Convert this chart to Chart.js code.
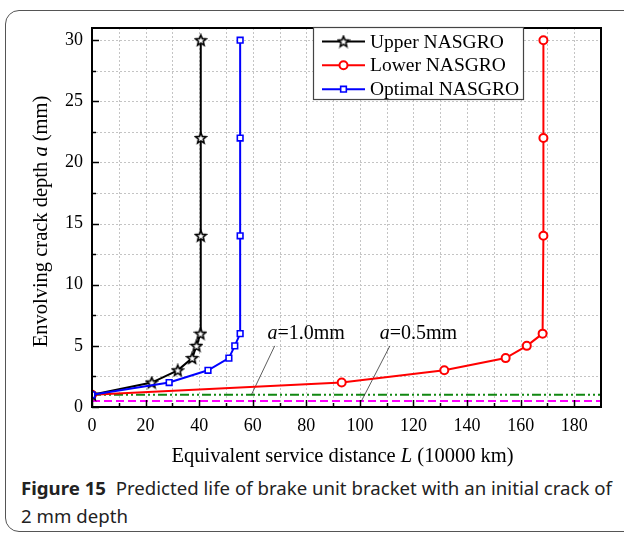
<!DOCTYPE html>
<html><head><meta charset="utf-8">
<script src="https://cdn.jsdelivr.net/npm/chart.js@4.4.1/dist/chart.umd.min.js"></script>
<style>
html,body{margin:0;padding:0;background:#fff;width:624px;height:533px;overflow:hidden}
#frame{position:absolute;left:5px;top:10px;width:640px;height:520px;border:1px solid #555;border-radius:14px;}
#cv{position:absolute;left:0;top:0}
#cap{position:absolute;left:21px;top:474px;font-family:"Noto Sans";font-size:18px;line-height:28px;color:#222;white-space:nowrap;transform-origin:0 0}
</style></head><body>
<div id="frame"></div>
<canvas id="cv" width="624" height="470"></canvas>
<div id="cap"><span id="l1"><b>Figure 15</b>&nbsp; Predicted life of brake unit bracket with an initial crack of</span><br>2 mm depth</div>
<script>
// ---- data ----
const seriesNames = ['Upper NASGRO', 'Lower NASGRO', 'Optimal NASGRO'];
const distUpper   = [0, 22.3, 32.0, 37.4, 39.0, 40.5, 40.6, 40.6, 40.6];
const depthUpper  = [1, 2, 3, 4, 5, 6, 14, 22, 30];
const distLower   = [0, 93.2, 131.5, 154.4, 162.3, 168.2, 168.5, 168.5, 168.5];
const depthLower  = [1, 2, 3, 4, 5, 6, 14, 22, 30];
const distOptimal = [0, 28.8, 43.3, 51.1, 53.3, 55.3, 55.3, 55.3, 55.3];
const depthOptimal= [1, 2, 3, 4, 5, 6, 14, 22, 30];
const thresholdDepths = [1.0, 0.5];
const thresholdLabels = ['=1.0mm', '=0.5mm'];
const leaderStart = [[68.2, 5.0], [111.2, 5.0]];
const leaderEnd   = [[59.5, 1.0], [100.6, 0.5]];
const labelAt     = [[65.5, 6.0], [107.4, 6.0]];
const xTickLabels = [0, 20, 40, 60, 80, 100, 120, 140, 160, 180];
const yTickLabels = [0, 5, 10, 15, 20, 25, 30];
const xRange = [0, 190];
const yRange = [0, 31];

const zip = (xs, ys) => xs.map((v, i) => ({x: v, y: ys[i]}));

// star marker
function makeStar(){
  const c = document.createElement('canvas'); c.width = 14; c.height = 14;
  const g = c.getContext('2d');
  g.beginPath();
  for (let i = 0; i < 10; i++){
    const r = i % 2 === 0 ? 5.6 : 2.5;
    const ang = -Math.PI/2 + i*Math.PI/5;
    const px = 7 + r*Math.cos(ang), py = 7.4 + r*Math.sin(ang);
    i ? g.lineTo(px, py) : g.moveTo(px, py);
  }
  g.closePath();
  g.fillStyle = '#fff'; g.fill();
  g.lineWidth = 1.6; g.strokeStyle = '#000'; g.lineJoin = 'miter'; g.stroke();
  return c;
}
const starImg = makeStar();

const SERIF = '"Liberation Serif", "Times New Roman", serif';

function drawParts(ctx, parts, x, y, align){
  let total = 0;
  parts.forEach(p => { ctx.font = p[1]; total += ctx.measureText(p[0]).width; });
  let cx = align === 'center' ? x - total/2 : x;
  ctx.textAlign = 'left'; ctx.textBaseline = 'middle';
  parts.forEach(p => { ctx.font = p[1]; ctx.fillText(p[0], cx, y); cx += ctx.measureText(p[0]).width; });
}

const decor = {
  id: 'decor',
  beforeDatasetsDraw(chart){
    const {ctx, chartArea: a, scales: {x, y}} = chart;
    ctx.save();
    ctx.strokeStyle = '#c4c4c4'; ctx.lineWidth = 1; ctx.setLineDash([2, 2]);
    for (let v = 10; v < xRange[1]; v += 10){
      const px = Math.round(x.getPixelForValue(v)) + 0.5;
      ctx.beginPath(); ctx.moveTo(px, a.top); ctx.lineTo(px, a.bottom); ctx.stroke();
    }
    for (let v = 2.5; v < yRange[1]; v += 2.5){
      const py = Math.round(y.getPixelForValue(v)) + 0.5;
      ctx.beginPath(); ctx.moveTo(a.left, py); ctx.lineTo(a.right, py); ctx.stroke();
    }
    ctx.restore();
  },
  afterDatasetsDraw(chart){
    const {ctx, chartArea: a, scales: {x, y}} = chart;
    ctx.save();
    // box
    ctx.strokeStyle = '#000'; ctx.lineWidth = 2; ctx.setLineDash([]);
    ctx.strokeRect(a.left, a.top, a.right - a.left, a.bottom - a.top);
    // inward ticks
    ctx.lineWidth = 1.5;
    for (let v = 0; v <= 180; v += 10){
      const px = Math.round(x.getPixelForValue(v)) + 0.5;
      const len = v % 20 === 0 ? 7 : 4;
      ctx.beginPath(); ctx.moveTo(px, a.bottom); ctx.lineTo(px, a.bottom - len); ctx.stroke();
    }
    for (let v = 0; v <= 30; v += 2.5){
      const py = Math.round(y.getPixelForValue(v)) + 0.5;
      const len = v % 5 === 0 ? 7 : 4;
      ctx.beginPath(); ctx.moveTo(a.left, py); ctx.lineTo(a.left + len, py); ctx.stroke();
    }
    // annotation labels
    ctx.fillStyle = '#000';
    thresholdLabels.forEach((t, i) => {
      drawParts(ctx, [['a', 'italic 20px ' + SERIF], [t, '20px ' + SERIF]],
        x.getPixelForValue(labelAt[i][0]), y.getPixelForValue(labelAt[i][1]), 'left');
    });
    // legend
    const L = 313.5, T = 27.5, W = 210, H = 72;
    ctx.fillStyle = '#fff'; ctx.fillRect(L, T, W, H);
    ctx.strokeStyle = '#444'; ctx.lineWidth = 1.2; ctx.strokeRect(L, T, W, H);
    const rows = [41.5, 65.3, 89.2];
    seriesNames.forEach((name, i) => {
      const ds = chart.data.datasets[i];
      ctx.strokeStyle = ds.borderColor; ctx.lineWidth = 2;
      ctx.beginPath(); ctx.moveTo(322, rows[i]); ctx.lineTo(365, rows[i]); ctx.stroke();
      ctx.fillStyle = ds.pointBackgroundColor; ctx.strokeStyle = ds.borderColor;
      ctx.lineWidth = ds.pointBorderWidth;
      Chart.helpers.drawPoint(ctx, {pointStyle: ds.pointStyle, radius: ds.pointRadius, rotation: 0, borderWidth: ds.pointBorderWidth}, 343.5, rows[i]);
      ctx.fillStyle = '#000';
      drawParts(ctx, [[name, '19.5px ' + SERIF]], 370, rows[i] + 1, 'left');
    });
    ctx.restore();
  },
  afterDraw(chart){
    const {ctx, chartArea: a} = chart;
    ctx.save();
    ctx.fillStyle = '#000';
    drawParts(ctx, [['Equivalent service distance ', '20.5px ' + SERIF], ['L', 'italic 20.5px ' + SERIF], [' (10000 km)', '20.5px ' + SERIF]],
      (a.left + a.right)/2 - 4, 457, 'center');
    ctx.translate(42, (a.top + a.bottom)/2 + 4);
    ctx.rotate(-Math.PI/2);
    drawParts(ctx, [['Envolving crack depth ', '20.5px ' + SERIF], ['a', 'italic 20.5px ' + SERIF], [' (mm)', '20.5px ' + SERIF]], 0, 0, 'center');
    ctx.restore();
  }
};

function build(){
  const datasets = [
    {label: seriesNames[0], data: zip(distUpper, depthUpper), borderColor: '#000', pointBackgroundColor: '#fff',
     borderWidth: 2, pointStyle: starImg, pointRadius: 6, pointBorderWidth: 1.6, showLine: true, order: 1},
    {label: seriesNames[1], data: zip(distLower, depthLower), borderColor: '#ff0000', pointBackgroundColor: '#fff',
     borderWidth: 2, pointStyle: 'circle', pointRadius: 4, pointBorderWidth: 2, showLine: true, order: 2},
    {label: seriesNames[2], data: zip(distOptimal, depthOptimal), borderColor: '#0000ff', pointBackgroundColor: '#fff',
     borderWidth: 2, pointStyle: 'rect', pointRadius: 4, pointBorderWidth: 1.6, showLine: true, order: 0},
    {label: 'a=1.0mm', data: [{x: xRange[0], y: thresholdDepths[0]}, {x: xRange[1], y: thresholdDepths[0]}], borderColor: '#118811',
     borderWidth: 2, borderDash: [9, 3, 2, 3, 2, 3], pointRadius: 0, showLine: true, order: 4},
    {label: 'a=0.5mm', data: [{x: xRange[0], y: thresholdDepths[1]}, {x: xRange[1], y: thresholdDepths[1]}], borderColor: '#ff00ff',
     borderWidth: 2, borderDash: [8, 4], pointRadius: 0, showLine: true, order: 5},
    {label: 'lead1', data: [{x: leaderStart[0][0], y: leaderStart[0][1]}, {x: leaderEnd[0][0], y: leaderEnd[0][1]}], borderColor: '#333',
     borderWidth: 0.8, pointRadius: 0, showLine: true, order: 3},
    {label: 'lead2', data: [{x: leaderStart[1][0], y: leaderStart[1][1]}, {x: leaderEnd[1][0], y: leaderEnd[1][1]}], borderColor: '#333',
     borderWidth: 0.8, pointRadius: 0, showLine: true, order: 3}
  ];
  new Chart(document.getElementById('cv'), {
    type: 'scatter',
    data: {datasets},
    options: {
      responsive: false, animation: false, devicePixelRatio: 1,
      layout: {padding: {left: 0, right: 23, top: 28, bottom: 0}},
      plugins: {legend: {display: false}, tooltip: {enabled: false}},
      elements: {line: {tension: 0}},
      scales: {
        x: {type: 'linear', min: xRange[0], max: xRange[1],
            grid: {display: false, drawTicks: false}, border: {display: false},
            afterBuildTicks: s => { s.ticks = xTickLabels.map(v => ({value: v})); },
            ticks: {autoSkip: false, maxRotation: 0, padding: 8, color: '#000',
                    font: {family: SERIF, size: 18}, callback: v => String(v)},
            afterFit: s => { s.height = 63; }},
        y: {type: 'linear', min: yRange[0], max: yRange[1],
            grid: {display: false, drawTicks: false}, border: {display: false},
            afterBuildTicks: s => { s.ticks = yTickLabels.map(v => ({value: v})); },
            ticks: {autoSkip: false, padding: 9, color: '#000',
                    font: {family: SERIF, size: 18}, callback: v => String(v)},
            afterFit: s => { s.width = 92; }}
      }
    },
    plugins: [decor]
  });
  const l1 = document.getElementById('l1');
  const k = 591 / l1.getBoundingClientRect().width;
  document.getElementById('cap').style.transform = 'scaleX(' + k + ')';
}
if (document.fonts && document.fonts.load) {
  Promise.all([document.fonts.load('18px "Liberation Serif"'), document.fonts.load('italic 18px "Liberation Serif"'), document.fonts.load('18px "Noto Sans"'), document.fonts.load('bold 18px "Noto Sans"')]).then(build, build);
} else build();
</script>
</body></html>
